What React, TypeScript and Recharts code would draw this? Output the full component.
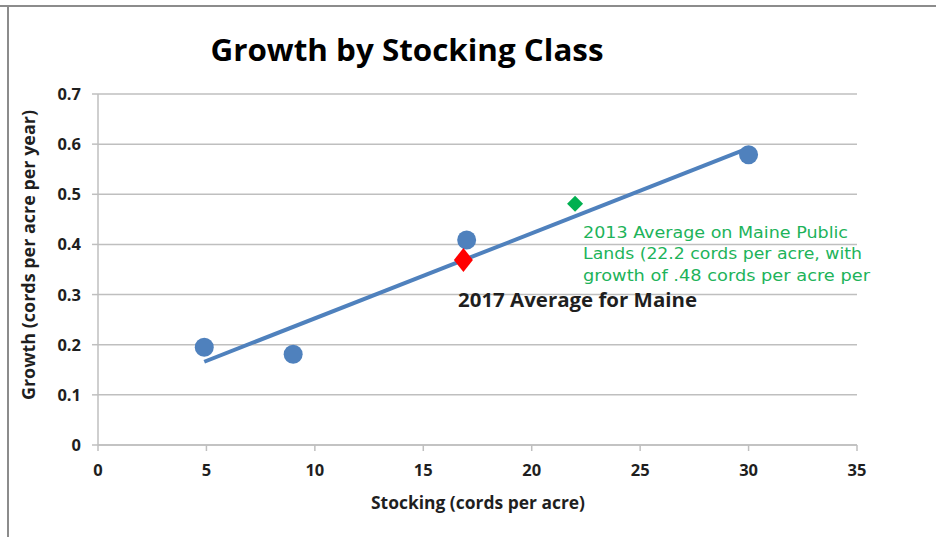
import React from "react";
import { ScatterChart, Scatter, XAxis, YAxis, CartesianGrid } from "recharts";

const stockClassX = [4.9, 9, 17, 30];
const stockClassY = [0.195, 0.181, 0.409, 0.579];
const maine2017 = { x: 16.85, y: 0.369 };
const publicLands2013 = { x: 22.0, y: 0.481 };
const trendX = [4.9, 30];
const trendY = [0.166, 0.592];
const xTicks = [0, 5, 10, 15, 20, 25, 30, 35];
const yTicks = [0, 0.1, 0.2, 0.3, 0.4, 0.5, 0.6, 0.7];

const classData = stockClassX.map((x, i) => ({ x, y: stockClassY[i] }));
const trendData = trendX.map((x, i) => ({ x, y: trendY[i] }));

const BLUE = "#4F81BD";
const GRID = "#BFBFBF";
const FONT = "'Open Sans', sans-serif";

const Circle = (p: any) => <circle cx={p.cx} cy={p.cy} r={9.5} fill={BLUE} />;
const Diamond = (color: string, w: number, h: number) => (p: any) => (
  <polygon
    points={`${p.cx},${p.cy - h / 2} ${p.cx + w / 2},${p.cy} ${p.cx},${p.cy + h / 2} ${p.cx - w / 2},${p.cy}`}
    fill={color}
  />
);

const XTick = (p: any) => (
  <text x={p.x} y={p.y + 23} textAnchor="middle" fontFamily={FONT} fontWeight={700} fontSize={16.5} fill="#1F1F1F">
    {String(p.payload.value)}
  </text>
);
const YTick = (p: any) => (
  <text x={p.x - 9} y={p.y + 6} textAnchor="end" fontFamily={FONT} fontWeight={700} fontSize={16.5} fill="#1F1F1F">
    {p.payload.value === 0 ? "0" : String(p.payload.value)}
  </text>
);

export default function App() {
  return (
    <div style={{ position: "absolute", left: 0, top: 0, width: 936, height: 537, background: "#fff" }}>
      <ScatterChart width={936} height={537} margin={{ top: 94, right: 79, left: 38, bottom: 62 }}>
        <CartesianGrid vertical={false} stroke={GRID} strokeWidth={1.5} />
        <XAxis
          type="number"
          dataKey="x"
          domain={[0, 35]}
          ticks={xTicks}
          height={30}
          stroke={GRID}
          strokeWidth={1.5}
          tickSize={6}
          tickMargin={2}
          tick={XTick}
        />
        <YAxis
          type="number"
          dataKey="y"
          domain={[0, 0.7]}
          ticks={yTicks}
          width={60}
          stroke={GRID}
          strokeWidth={1.5}
          tickSize={6}
          tickMargin={2}
          tick={YTick}
        />
        <Scatter
          data={trendData}
          line={{ stroke: BLUE, strokeWidth: 4 }}
          shape={() => null}
          isAnimationActive={false}
        />
        <Scatter data={classData} shape={Circle} isAnimationActive={false} />
        <Scatter data={[maine2017]} shape={Diamond("#FF0000", 19, 24)} isAnimationActive={false} />
        <Scatter data={[publicLands2013]} shape={Diamond("#00B050", 16, 16)} isAnimationActive={false} />
      </ScatterChart>
      <svg
        width={936}
        height={537}
        style={{ position: "absolute", left: 0, top: 0, pointerEvents: "none" }}
      >
        <line x1={0} y1={6} x2={936} y2={6} stroke="#8C8C8C" strokeWidth={2} />
        <line x1={8} y1={6} x2={8} y2={537} stroke="#8C8C8C" strokeWidth={2} />
        <text x={407} y={61} textAnchor="middle" fontFamily={FONT} fontWeight={700} fontSize={30}
          fill="#000" textLength={393} lengthAdjust="spacingAndGlyphs">
          Growth by Stocking Class
        </text>
        <text x={478} y={509} textAnchor="middle" fontFamily={FONT} fontWeight={700} fontSize={17}
          fill="#1F1F1F" textLength={214} lengthAdjust="spacingAndGlyphs">
          Stocking (cords per acre)
        </text>
        <text x={0} y={0} transform="translate(35,255) rotate(-90)" textAnchor="middle" fontFamily={FONT}
          fontWeight={700} fontSize={17} fill="#1F1F1F" textLength={290} lengthAdjust="spacingAndGlyphs">
          Growth (cords per acre per year)
        </text>
        <text x={458} y={307} fontFamily={FONT} fontWeight={700} fontSize={19} fill="#1F1F1F"
          textLength={239} lengthAdjust="spacingAndGlyphs">
          2017 Average for Maine
        </text>
        <g fontFamily="'DejaVu Sans', Verdana, sans-serif" fontSize={16} fill="#1DB35A">
          <text x={583} y={238} textLength={265} lengthAdjust="spacingAndGlyphs">2013 Average on Maine Public</text>
          <text x={583} y={259} textLength={279} lengthAdjust="spacingAndGlyphs">Lands (22.2 cords per acre, with</text>
          <text x={583} y={281} textLength={287} lengthAdjust="spacingAndGlyphs">growth of .48 cords per acre per</text>
        </g>
      </svg>
    </div>
  );
}
